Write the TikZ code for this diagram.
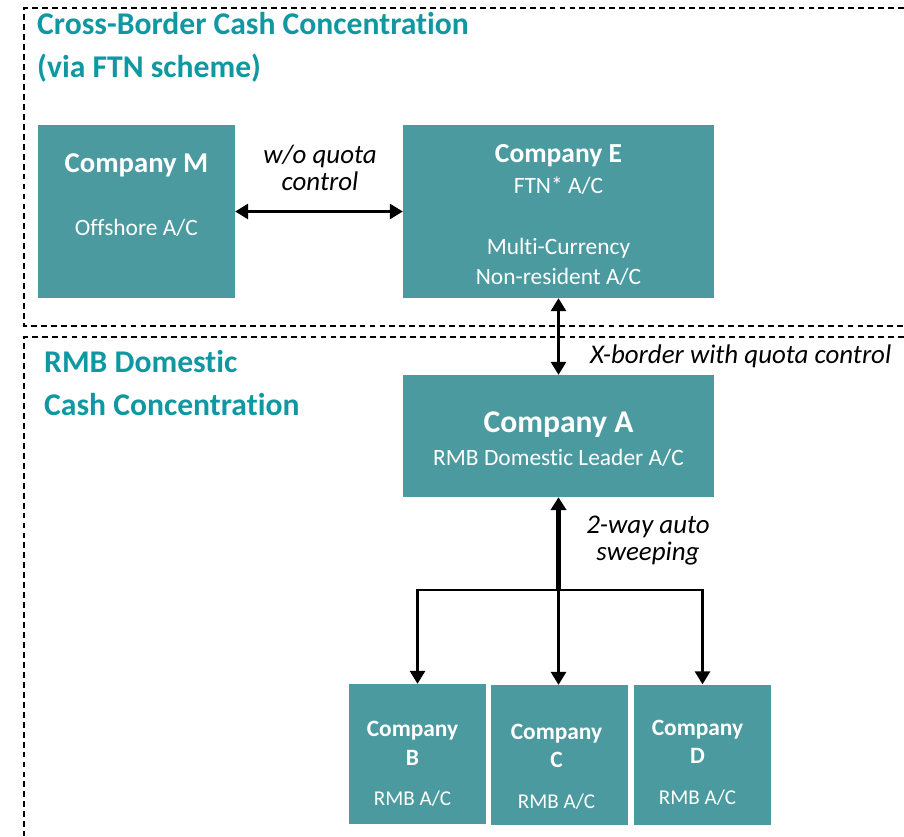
\documentclass[tikz,border=0pt]{standalone}
\usepackage{fontspec}
\setmainfont{Carlito}[Ligatures=NoCommon]
\usetikzlibrary{arrows.meta}

\definecolor{boxteal}{RGB}{74,154,160}
\definecolor{headteal}{RGB}{16,152,162}

\begin{document}
\begin{tikzpicture}[x=0.03cm, y=-0.03cm,
    company/.style={fill=boxteal, inner sep=0pt},
    region/.style={draw=black, line width=1.1pt, dash pattern=on 5pt off 3.5pt},
    heading/.style={anchor=base west, inner sep=0pt, text=headteal, font=\bfseries\fontsize{27}{32}\selectfont},
    headtext/.style={anchor=base, inner sep=0pt, text=white, font=\bfseries\fontsize{#1}{#1}\selectfont},
    acctext/.style={anchor=base, inner sep=0pt, text=white, font=\fontsize{#1}{#1}\selectfont},
    flowtext/.style={anchor=base, inner sep=0pt, align=center, font=\itshape\fontsize{23}{23}\selectfont},
    flow/.style={line width=1.8pt, {Triangle[length=11pt,width=13pt]}-{Triangle[length=11pt,width=13pt]}},
    down/.style={line width=1.8pt, -{Triangle[length=11pt,width=13pt]}}]
   \useasboundingbox (0,0) rectangle (904,836);

   % regions
   \draw[region] (904,8) -- (24,8) -- (24,326) -- (904,326);
   \draw[region] (904,337) -- (24,337) -- (24,836);
   \node[heading] (T1) at (37,34) {Cross-Border Cash Concentration};
   \node[heading] (T2) at (37,77) {(via FTN scheme)};
   \node[heading] (T3) at (44,372) {RMB Domestic};
   \node[heading] (T4) at (44,415) {Cash Concentration};

   % boxes
   \node[company, minimum width=5.91cm, minimum height=5.19cm] (M) at (136.5,211.5) {};
   \node[company, minimum width=9.33cm, minimum height=5.19cm] (E) at (558.5,211.5) {};
   \node[company, minimum width=9.33cm, minimum height=3.66cm] (A) at (558.5,436) {};
   \node[company, minimum width=4.11cm, minimum height=4.2cm] (B) at (417.5,754) {};
   \node[company, minimum width=4.11cm, minimum height=4.2cm] (C) at (559.5,755) {};
   \node[company, minimum width=4.11cm, minimum height=4.2cm] (D) at (702.5,754.5) {};

   \node[headtext=24.5] (Mhead) at (136.5,172) {Company M};
   \node[acctext=20] (Macc) at (136.5,235) {Offshore A/C};
   \node[headtext=23.5] (Ehead) at (558.5,162) {Company E};
   \node[acctext=20] (Eacc) at (558.5,193) {FTN* A/C};
   \node[acctext=20] (Emc) at (558.5,254) {Multi-Currency};
   \node[acctext=20] (Enr) at (558.5,284) {Non-resident A/C};
   \node[headtext=27] (Ahead) at (558.5,432) {Company A};
   \node[acctext=20] (Aacc) at (558.5,465) {RMB Domestic Leader A/C};

   \node[headtext=20] (Bhead) at (412.5,736) {Company};
   \node[headtext=20] (Bname) at (412.5,765) {B};
   \node[acctext=18] (Bacc) at (412.5,805) {RMB A/C};
   \node[headtext=20] (Chead) at (556.5,739) {Company};
   \node[headtext=20] (Cname) at (556.5,767) {C};
   \node[acctext=18] (Cacc) at (556.5,808) {RMB A/C};
   \node[headtext=20] (Dhead) at (697.5,735) {Company};
   \node[headtext=20] (Dname) at (697.5,763) {D};
   \node[acctext=18] (Dacc) at (697.5,804) {RMB A/C};

   % flows
   \coordinate (J) at (558.5,590);
   \draw[flow] (M.east) -- (E.west);
   \draw[flow] (E.south) -- (A.north);
   \draw[line width=3.6pt, -{Triangle[length=11pt,width=13pt]}] (J) -- (A.south);
   \draw[down] (J) -| (B.north);
   \draw[down] (J) -- (J |- C.north);
   \draw[down] (J) -| (D.north);

   \node[flowtext] (quota) at (320,190) {w/o quota\\control};
   \node[flowtext, anchor=base west] (xborder) at (590,363) {X-border with quota control};
   \node[flowtext] (sweep) at (648,560) {2-way auto\\sweeping};
 \end{tikzpicture}
\end{document}
